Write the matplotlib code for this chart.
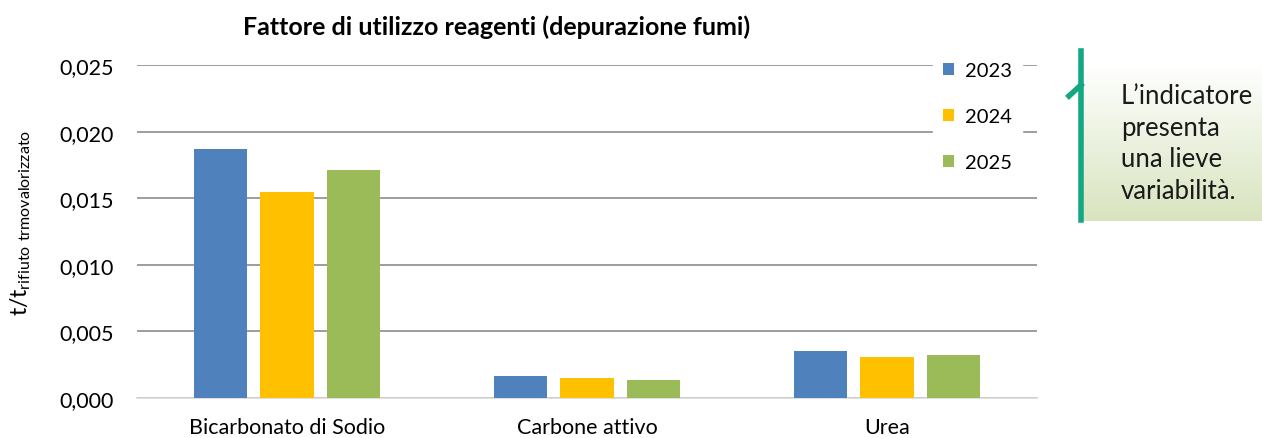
import matplotlib
matplotlib.use("Agg")
import matplotlib.pyplot as plt
import numpy as np
from matplotlib.ticker import FuncFormatter, MultipleLocator
from matplotlib.colors import LinearSegmentedColormap

categories = ["Bicarbonato di Sodio", "Carbone attivo", "Urea"]
years = ["2023", "2024", "2025"]
v2023 = [0.0187, 0.00165, 0.00353]
v2024 = [0.01545, 0.0015, 0.00308]
v2025 = [0.0171, 0.00135, 0.00322]
colors = ["#4f81bd", "#ffc000", "#9bbb59"]

plt.rcParams['font.family'] = ['Lato', 'DejaVu Sans']

fig = plt.figure(figsize=(12.62, 4.39), dpi=100)
ax = fig.add_axes([137/1262, 1 - 399/439, 900/1262, 333/439])

x = np.arange(len(categories))
w = 0.177
step = 0.223
series = [v2023, v2024, v2025]
for i, (vals, c, yr) in enumerate(zip(series, colors, years)):
    ax.bar(x + (i - 1) * step, vals, width=w, color=c, label=yr, zorder=3)

ax.set_xlim(-0.5, 2.5)
ax.set_ylim(0, 0.025)
ax.yaxis.set_major_locator(MultipleLocator(0.005))
ax.yaxis.set_major_formatter(FuncFormatter(lambda v, p: f"{v:.3f}".replace(".", ",")))
ax.grid(axis='y', color='#8c8c8c', linewidth=1.2, zorder=0)
for s in ['top', 'right', 'left']:
    ax.spines[s].set_visible(False)
ax.spines['bottom'].set_color('#d9d9d9')
ax.spines['bottom'].set_linewidth(1.2)
ax.tick_params(axis='y', length=0, labelsize=15.5, pad=17)
ax.tick_params(axis='x', length=0, labelsize=15.5, pad=14)
ax.set_xticks(x)
ax.set_xticklabels(categories)

ax.set_title("Fattore di utilizzo reagenti (depurazione fumi)", fontsize=18, fontweight='bold',
             pad=22, x=0.399)
ax.set_ylabel(r"$\mathregular{t/t_{rifiuto\ trmovalorizzato}}$", fontsize=16.5, labelpad=12)
ax.yaxis.set_label_coords(-0.116, 0.53)

leg = ax.legend(loc='upper left', bbox_to_anchor=(0.873, 1.07), frameon=True, fontsize=14.5,
                handlelength=0.55, handleheight=0.55, labelspacing=1.45, borderpad=0.5,
                handletextpad=0.55)
leg.get_frame().set_facecolor('white')
leg.get_frame().set_edgecolor('white')
leg.get_frame().set_alpha(1)
leg.set_zorder(5)

# Text box with gradient
bx = fig.add_axes([1082/1262, 1 - 222/439, 180/1262, 157/439])
bx.set_axis_off()
cmap = LinearSegmentedColormap.from_list("g", ["#ffffff", "#d8e4bf"])
grad = np.linspace(0, 1, 256).reshape(-1, 1)
bx.imshow(grad[::-1], aspect='auto', cmap=cmap, extent=[0, 1, 0, 1], origin='lower')
bx.set_xlim(0, 1)
bx.set_ylim(0, 1)
fig.text(1121/1262, 1 - 144/439, "L’indicatore\npresenta\nuna lieve\nvariabilità.", fontsize=18.5,
         va='center', ha='left', linespacing=1.33, color='#1a1a1a')

# green bracket line
fig.add_artist(plt.Line2D([1081/1262, 1081/1262], [1 - 52/439, 1 - 221/439], color='#14a882', linewidth=4))
fig.add_artist(plt.Line2D([1069/1262, 1081/1262], [1 - 97/439, 1 - 86/439], color='#14a882', linewidth=4))

fig.savefig("out.png", dpi=100)
